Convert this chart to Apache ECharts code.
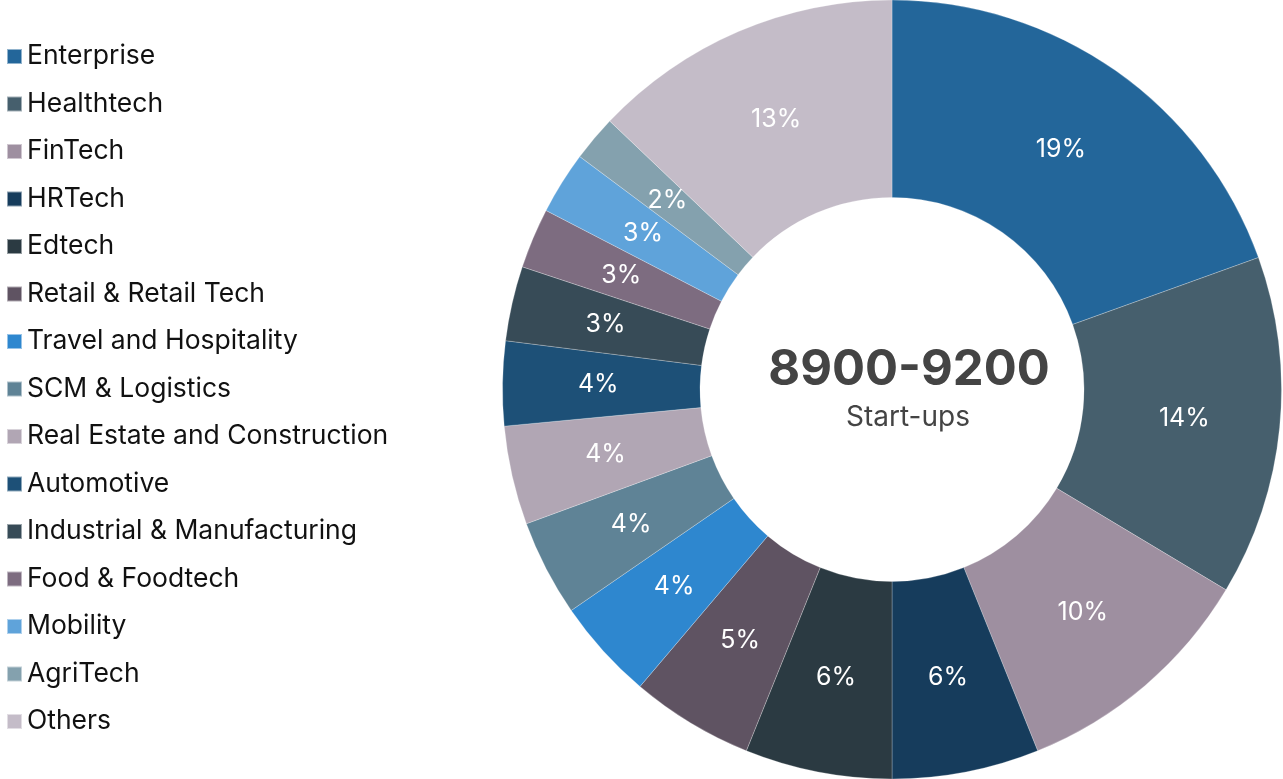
<!DOCTYPE html>
<html>
<head>
<meta charset="utf-8">
<script src="https://cdn.jsdelivr.net/npm/echarts@6/dist/echarts.min.js"></script>
<style>
html,body{margin:0;padding:0;background:#fff;}
#chart{width:1283px;height:779px;}
</style>
</head>
<body>
<div id="chart"></div>
<script>
const categories = ['Enterprise','Healthtech','FinTech','HRTech','Edtech','Retail & Retail Tech','Travel and Hospitality','SCM & Logistics','Real Estate and Construction','Automotive','Industrial & Manufacturing','Food & Foodtech','Mobility','AgriTech','Others'];
const shares = [19.5, 14.1, 10.3, 6.1, 6.1, 5.1, 4.2, 4.0, 4.1, 3.5, 3.1, 2.5, 2.6, 1.9, 12.9];
const percentLabels = ['19%','14%','10%','6%','6%','5%','4%','4%','4%','4%','3%','3%','3%','2%','13%'];
const colors = ['#23669a','#465f6d','#9e8fa0','#163c5c','#2b3a42','#5f5362','#2e87cf','#5f8396','#b1a6b4','#1d5077','#374b57','#7d6c80','#5fa3da','#84a1ae','#c4bcc8'];
const centerTitle = '8900-9200';
const centerSubtitle = 'Start-ups';

const chart = echarts.init(document.getElementById('chart'));
chart.setOption({
  animation: false,
  color: colors,
  legend: {
    orient: 'vertical',
    left: 6,
    top: 43,
    padding: 0,
    icon: 'rect',
    itemWidth: 15,
    itemHeight: 15,
    itemGap: 20.5,
    selectedMode: false,
    textStyle: { fontFamily: 'Inter', fontSize: 26.5, lineHeight: 27, color: '#111' },
    data: categories
  },
  graphic: [
    { type: 'text', x: 909, y: 370, style: { text: centerTitle, textAlign: 'center', textVerticalAlign: 'middle', font: 'bold 49px Inter', fill: '#444' } },
    { type: 'text', x: 908, y: 418, style: { text: centerSubtitle, textAlign: 'center', textVerticalAlign: 'middle', font: '28px Inter', fill: '#444' } }
  ],
  series: [{
    type: 'pie',
    center: [892, 389.5],
    radius: ['49.3%', '100%'],
    startAngle: 90,
    clockwise: true,
    avoidLabelOverlap: false,
    itemStyle: { borderColor: 'rgba(255,255,255,0.5)', borderWidth: 0.5 },
    label: {
      show: true,
      position: 'inside',
      color: '#fff',
      fontFamily: 'Inter',
      fontSize: 25,
      formatter: p => percentLabels[p.dataIndex]
    },
    labelLine: { show: false },
    emphasis: { disabled: true },
    data: categories.map((c, i) => ({ name: c, value: shares[i] }))
  }]
});
</script>
</body>
</html>
